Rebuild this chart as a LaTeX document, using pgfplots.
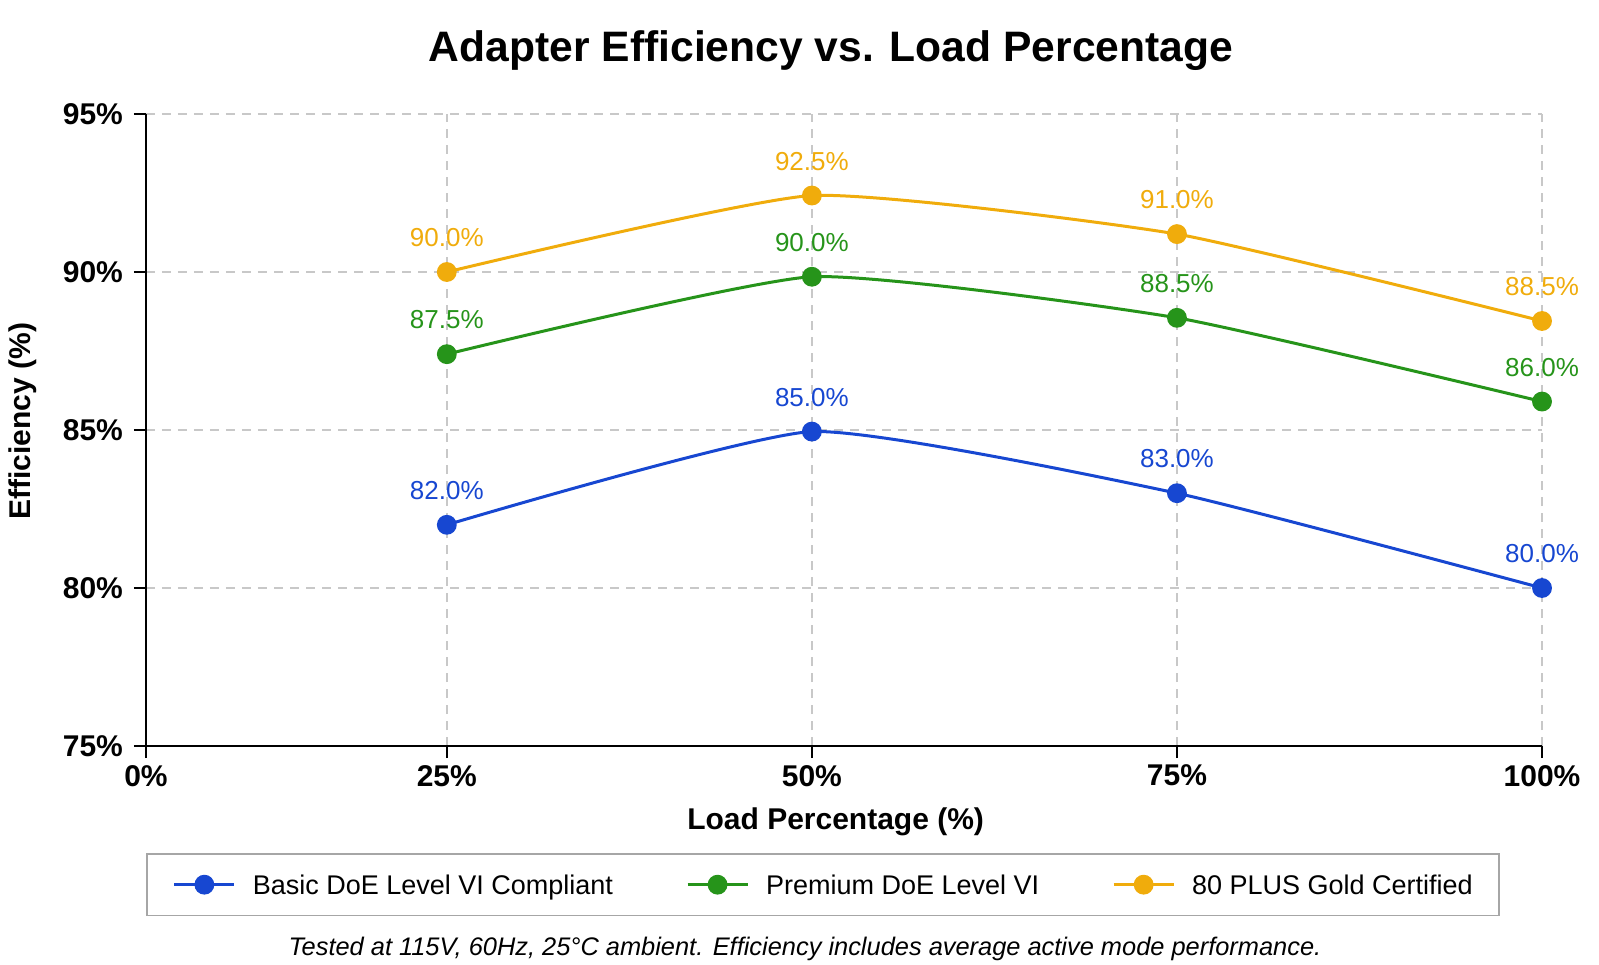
\documentclass[border=0pt]{standalone}
\usepackage{pgfplots}
\pgfplotsset{compat=1.18}
\usepackage{fontspec}
\setmainfont{Liberation Sans}
\definecolor{cblue}{HTML}{1747D1}
\definecolor{cgreen}{HTML}{26941A}
\definecolor{cgold}{HTML}{F0AC0C}
\definecolor{cgrid}{HTML}{C8C8C8}
\begin{document}
\begin{tikzpicture}
\useasboundingbox (-73pt,-109pt) rectangle (726.5pt,373pt);
\begin{axis}[
  at={(0,0)}, anchor=south west,
  width=698pt, height=316pt, scale only axis,
  xmin=4.4, xmax=100, ymin=75, ymax=95,
  clip=false,
  axis lines=left,
  axis line style={-, line width=1.3pt, black},
  xtick={4.4,25,50,75,100},
  xticklabels={0\%,25\%,50\%,75\%,100\%},
  ytick={75,80,85,90,95},
  yticklabels={75\%,80\%,85\%,90\%,95\%},
  tick align=outside,
  major tick length=6pt,
  tick style={line width=1.1pt, black},
  ticklabel style={font=\fontsize{15}{18}\selectfont\bfseries},
  yticklabel style={xshift=-2pt},
  grid=major,
  major grid style={cgrid, line width=0.8pt, dash pattern=on 4.5pt off 3.5pt},
  title={Adapter Efficiency vs. Load Percentage},
  title style={font=\fontsize{21.3}{25}\selectfont\bfseries, at={(axis description cs:0.4907,1.0633)}, anchor=base},
  xlabel={Load Percentage (\%)},
  xlabel style={font=\fontsize{15}{18}\selectfont\bfseries, at={(axis description cs:0.494,-0.1203)}, anchor=center},
  ylabel={Efficiency (\%)},
  ylabel style={font=\fontsize{15}{18}\selectfont\bfseries, at={(axis description cs:-0.0885,0.514)}, anchor=center, rotate=0},
  legend columns=3,
  legend style={at={(axis description cs:0,-0.1693)}, anchor=north west,
    draw=gray!70, line width=0.9pt, inner xsep=13pt, inner ysep=10.5pt,
    font=\fontsize{13.5}{16}\selectfont,
    nodes={inner sep=0pt, text depth=0pt},
    /tikz/every odd column/.append style={column sep=8.5pt},
    /tikz/every even column/.append style={column sep=36.5pt}},
  legend image code/.code={\draw[mark repeat=2,mark phase=2,#1] plot coordinates {(0pt,0pt)(15pt,0pt)(30pt,0pt)};},
  nodes near coords,
  point meta=explicit symbolic,
  every node near coord/.append style={anchor=base, yshift=12.7pt, inner sep=0pt, font=\fontsize{13}{15}\selectfont},
  every axis plot/.append style={line width=1.5pt, smooth, tension=0.3, mark=*, mark size=4.2pt},
]
\addplot[cblue, mark options={fill=cblue, draw=cblue}, every node near coord/.append style={cblue}] table[meta=lab] {
x y lab
25 82.0 82.0\%
50 84.95 85.0\%
75 83.0 83.0\%
100 80.0 80.0\%
};
\addlegendentry{Basic DoE Level VI Compliant}
\addplot[cgreen, mark options={fill=cgreen, draw=cgreen}, every node near coord/.append style={cgreen}] table[meta=lab] {
x y lab
25 87.4 87.5\%
50 89.85 90.0\%
75 88.55 88.5\%
100 85.9 86.0\%
};
\addlegendentry{Premium DoE Level VI}
\addplot[cgold, mark options={fill=cgold, draw=cgold}, every node near coord/.append style={cgold}] table[meta=lab] {
x y lab
25 90.0 90.0\%
50 92.42 92.5\%
75 91.2 91.0\%
100 88.45 88.5\%
};
\addlegendentry{80 PLUS Gold Certified}
\node[font=\fontsize{12.7}{15}\selectfont\itshape, anchor=center] at (axis description cs:0.472,-0.3215) {Tested at 115V, 60Hz, 25°C ambient. Efficiency includes average active mode performance.};
\end{axis}
\end{tikzpicture}
\end{document}
